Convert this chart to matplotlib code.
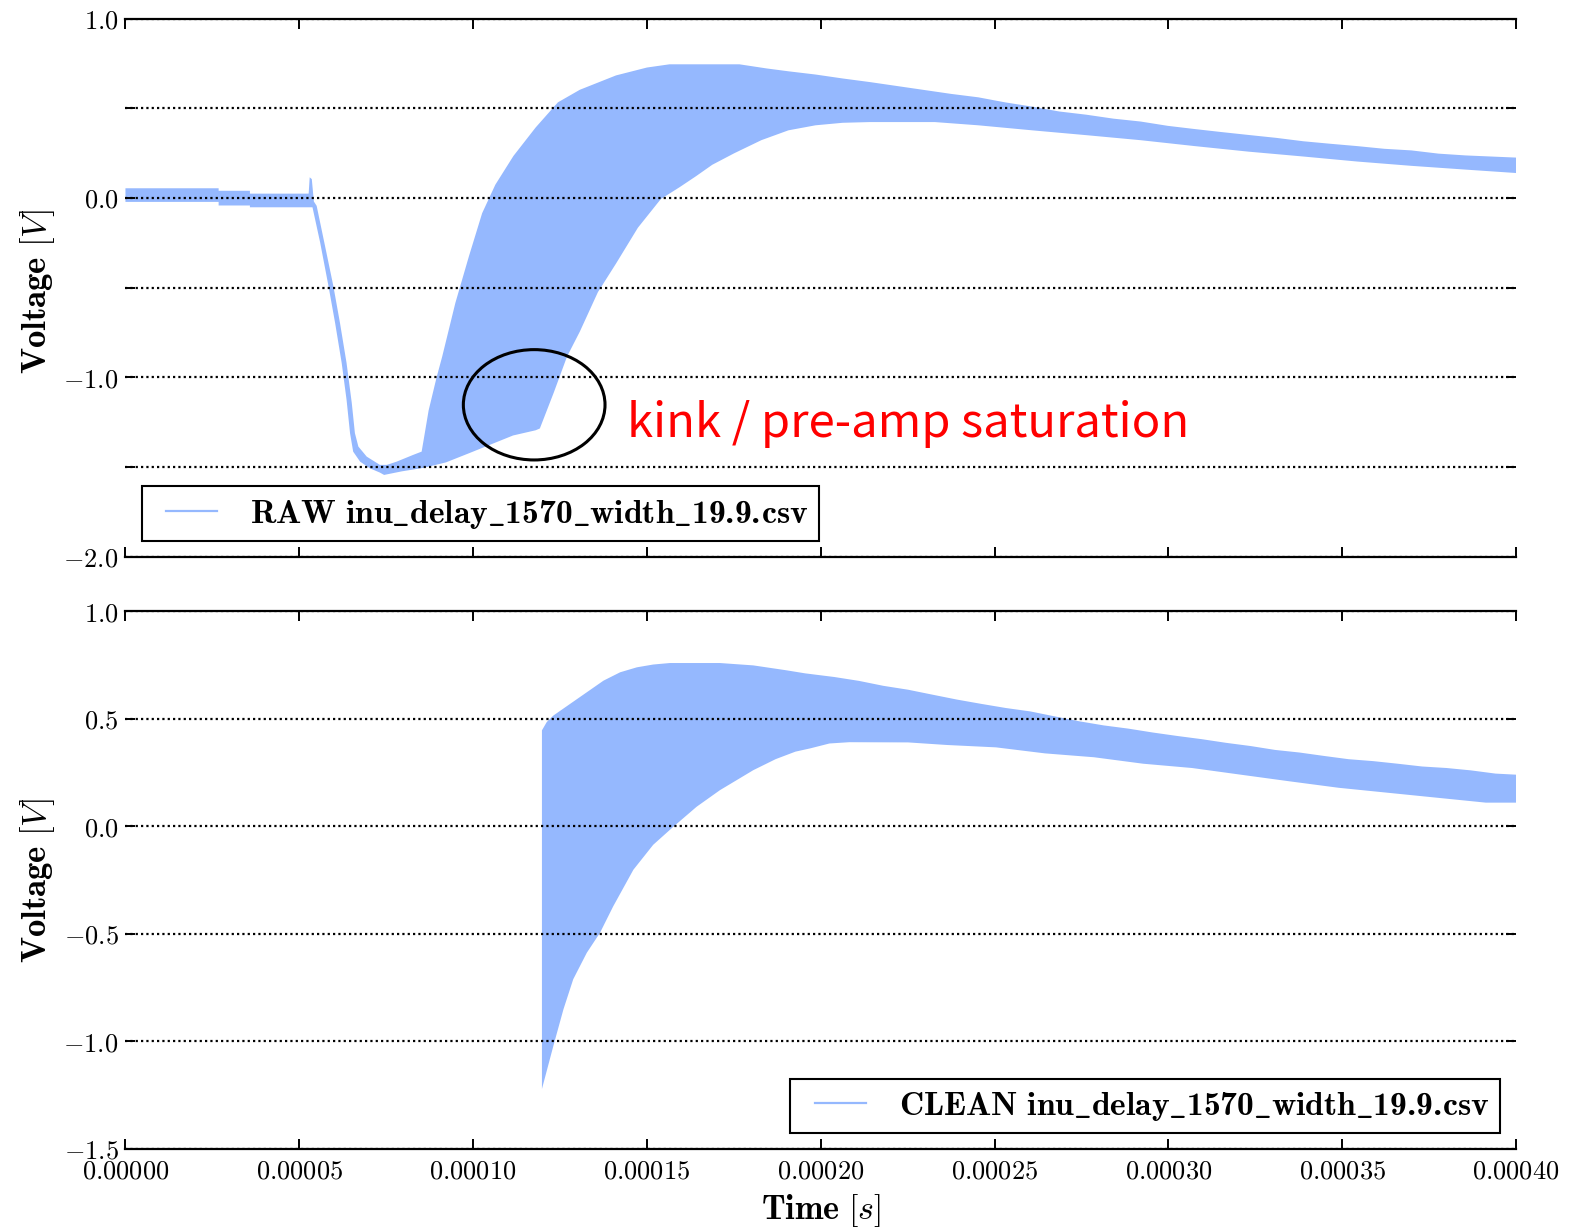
import numpy as np
import matplotlib
matplotlib.use("Agg")
import matplotlib.pyplot as plt
from matplotlib.lines import Line2D
from matplotlib.patches import Ellipse
from matplotlib.ticker import FuncFormatter
from matplotlib.font_manager import FontProperties
from matplotlib.legend_handler import HandlerLine2D

plt.rcParams['mathtext.fontset'] = 'cm'
plt.rcParams['mathtext.rm'] = 'cmr10'
plt.rcParams['mathtext.it'] = 'cmmi10'
plt.rcParams['mathtext.bf'] = 'cmb10'
plt.rcParams['mathtext.tt'] = 'cmtt10'
plt.rcParams['mathtext.fallback'] = 'cm'

# ---------------- data (time in units of 1e-5 s, voltage in V) ----------------
raw_upper_t = np.array([0.00, 2.68, 2.68, 3.58, 3.58, 5.27, 5.30, 5.36, 5.42, 5.50, 5.74, 5.98,
                        6.17, 6.36, 6.51, 6.60, 6.70, 6.94, 7.32, 7.52, 7.80, 8.28, 8.52, 8.62,
                        8.72, 8.95, 9.11, 9.49, 9.88, 10.26, 10.64, 11.16, 11.80, 12.44, 13.07,
                        14.11, 15.00, 15.65, 17.66, 18.44, 19.07, 19.85, 20.63, 21.41, 22.19,
                        22.97, 23.75, 24.53, 25.30, 26.08, 26.86, 27.64, 28.42, 29.20, 29.98,
                        30.76, 31.54, 32.31, 33.10, 33.88, 34.66, 35.43, 36.21, 36.99, 37.77,
                        38.55, 40.00]) * 1e-5
raw_upper_v = np.array([0.054, 0.054, 0.040, 0.040, 0.024, 0.024, 0.115, 0.105, -0.020, -0.044,
                        -0.267, -0.491, -0.696, -0.920, -1.143, -1.311, -1.386, -1.442, -1.488,
                        -1.488, -1.470, -1.432, -1.414, -1.300, -1.185, -1.000, -0.885, -0.585,
                        -0.325, -0.085, 0.074, 0.234, 0.393, 0.533, 0.603, 0.683, 0.727, 0.745,
                        0.745, 0.722, 0.706, 0.688, 0.666, 0.646, 0.624, 0.602, 0.580, 0.561,
                        0.533, 0.509, 0.482, 0.464, 0.442, 0.426, 0.402, 0.384, 0.367, 0.351,
                        0.335, 0.316, 0.302, 0.289, 0.274, 0.265, 0.247, 0.237, 0.225])

raw_lower_t = np.array([0.00, 2.68, 2.68, 3.58, 3.58, 5.38, 5.60, 5.84, 6.03, 6.22, 6.36, 6.46,
                        6.55, 6.75, 7.03, 7.32, 7.44, 7.95, 8.59, 9.22, 9.87, 10.51, 11.15,
                        11.80, 11.92, 12.32, 12.70, 13.07, 13.59, 14.11, 14.74, 15.40, 15.94,
                        16.41, 16.88, 17.51, 18.29, 19.07, 19.85, 20.63, 21.41, 23.28, 24.53,
                        26.08, 27.64, 29.20, 30.76, 32.31, 33.88, 35.43, 36.99, 38.55,
                        40.00]) * 1e-5
raw_lower_v = np.array([-0.022, -0.022, -0.042, -0.042, -0.052, -0.052, -0.248, -0.491, -0.696,
                        -0.920, -1.125, -1.311, -1.414, -1.470, -1.507, -1.531, -1.544, -1.524,
                        -1.504, -1.474, -1.424, -1.374, -1.324, -1.295, -1.285, -1.085, -0.885,
                        -0.745, -0.525, -0.366, -0.166, -0.006, 0.060, 0.121, 0.185, 0.249,
                        0.322, 0.377, 0.405, 0.419, 0.423, 0.423, 0.405, 0.377, 0.350, 0.322,
                        0.289, 0.258, 0.231, 0.203, 0.179, 0.158, 0.139])

clean_upper_t = np.array([11.98, 12.12, 12.31, 12.79, 13.27, 13.75, 14.23, 14.71, 15.18, 15.66,
                          17.10, 18.06, 19.02, 19.55, 20.39, 21.10, 21.80, 22.51, 23.21, 23.92,
                          24.62, 25.32, 26.03, 26.73, 27.44, 28.14, 28.85, 29.55, 30.25, 30.96,
                          31.66, 32.37, 33.07, 33.77, 34.48, 35.18, 35.89, 36.59, 37.30, 38.00,
                          38.70, 39.41, 40.00]) * 1e-5
clean_upper_v = np.array([0.446, 0.485, 0.515, 0.569, 0.623, 0.677, 0.716, 0.739, 0.752, 0.759,
                          0.759, 0.748, 0.725, 0.711, 0.694, 0.676, 0.653, 0.635, 0.612, 0.589,
                          0.569, 0.550, 0.534, 0.511, 0.488, 0.469, 0.454, 0.436, 0.420, 0.405,
                          0.388, 0.373, 0.355, 0.343, 0.327, 0.312, 0.303, 0.291, 0.278, 0.271,
                          0.260, 0.245, 0.240])

clean_lower_t = np.array([11.98, 12.31, 12.60, 12.88, 13.27, 13.65, 14.03, 14.61, 15.18, 15.76,
                          16.43, 17.10, 18.06, 18.70, 19.27, 19.69, 20.25, 20.82, 22.51, 23.63,
                          25.04, 26.45, 27.86, 29.27, 30.68, 32.08, 33.49, 34.90, 36.31, 37.72,
                          39.13, 40.00]) * 1e-5
clean_lower_v = np.array([-1.221, -1.020, -0.850, -0.711, -0.588, -0.495, -0.372, -0.202, -0.086,
                          -0.002, 0.091, 0.168, 0.261, 0.312, 0.347, 0.362, 0.385, 0.391, 0.390,
                          0.378, 0.367, 0.339, 0.321, 0.291, 0.271, 0.240, 0.209, 0.179, 0.156,
                          0.133, 0.110, 0.110])

US = r'\mathtt{\_}'
raw_label = r'$\mathbf{RAW\ inu' + US + 'delay' + US + '1570' + US + r'width' + US + r'19.9.\!csv}$'
clean_label = r'$\mathbf{CLEAN\ inu' + US + 'delay' + US + '1570' + US + r'width' + US + r'19.9.\!csv}$'
x_ticks = np.arange(0, 0.000401, 0.00005)
# ---------------------------------------------------------------------------

COLOR = '#95B8FE'
TICK_FS = 19
LABEL_FS = 25
LEG_FS = 24.2


class ShortLineHandler(HandlerLine2D):
    """Line handle that only occupies the right part of the handle box."""
    def create_artists(self, legend, orig_handle, xdescent, ydescent, width, height,
                       fontsize, trans):
        arts = super().create_artists(legend, orig_handle, xdescent, ydescent, width,
                                      height, fontsize, trans)
        for a in arts:
            xd = np.asarray(a.get_xdata(), dtype=float)
            if xd.size >= 2 and a.get_linestyle() not in ('None', ''):
                x0, x1 = xd.min(), xd.max()
                a.set_xdata(np.linspace(x0 + 0.22 * (x1 - x0), x1, xd.size))
        return arts


fig = plt.figure(figsize=(15.86, 12.29), dpi=100)
ax1 = fig.add_axes([0.0791, 0.5470, 0.8768, 0.4379])
ax2 = fig.add_axes([0.0791, 0.0651, 0.8768, 0.4376], sharex=ax1)


def style(ax, ylo, yhi):
    ax.set_xlim(0, 0.0004)
    ax.set_ylim(ylo, yhi)
    ax.spines['left'].set_visible(False)
    ax.spines['right'].set_visible(False)
    for s in ('top', 'bottom'):
        ax.spines[s].set_linewidth(1.6)
    ax.tick_params(which='both', direction='in', top=True, right=True, left=True, bottom=True,
                   length=7, width=1.4, labelsize=TICK_FS, pad=5)
    ax.tick_params(axis='x', pad=7)
    ax.set_xticks(x_ticks)
    ax.xaxis.set_major_formatter(FuncFormatter(lambda v, p: r'$%.5f$' % v))
    ax.yaxis.grid(True, linestyle=(0, (1.0, 1.4)), color='black', linewidth=1.6)


style(ax1, -2.0, 1.0)
style(ax2, -1.5, 1.0)

ax1.set_yticks(np.arange(-2.0, 1.01, 0.5))
ax1.yaxis.set_major_formatter(FuncFormatter(
    lambda v, p: (r'$%.1f$' % v) if abs(v - round(v)) < 1e-9 else ''))
ax2.set_yticks(np.arange(-1.5, 1.01, 0.5))
ax2.yaxis.set_major_formatter(FuncFormatter(lambda v, p: r'$%.1f$' % v))
ax1.tick_params(labelbottom=False)

ax1.fill(np.concatenate([raw_upper_t, raw_lower_t[::-1]]),
         np.concatenate([raw_upper_v, raw_lower_v[::-1]]),
         color=COLOR, linewidth=0)
ax2.fill(np.concatenate([clean_upper_t, clean_lower_t[::-1]]),
         np.concatenate([clean_upper_v, clean_lower_v[::-1]]),
         color=COLOR, linewidth=0)

leg_prop = FontProperties(size=LEG_FS, math_fontfamily='custom')
for ax, lab, loc in ((ax1, raw_label, 'lower left'), (ax2, clean_label, 'lower right')):
    h = Line2D([], [], color=COLOR, linewidth=1.6)
    leg = ax.legend([h], [lab], loc=loc, fancybox=False, framealpha=1, edgecolor='black',
                    prop=leg_prop, handlelength=1.95, handletextpad=0.98, borderpad=0.3,
                    borderaxespad=0.48, handler_map={Line2D: ShortLineHandler()})
    leg.get_frame().set_linewidth(1.5)

ax1.set_ylabel(r'$\mathbf{Voltage}\ [V]$', fontsize=LABEL_FS)
ax2.set_ylabel(r'$\mathbf{Voltage}\ [V]$', fontsize=LABEL_FS)
ax2.set_xlabel(r'$\mathbf{Time}\ [s]$', fontsize=24.5)
ax1.yaxis.set_label_coords(-0.0495, 0.494)
ax2.yaxis.set_label_coords(-0.0495, 0.50)
ax2.xaxis.set_label_coords(0.5, -0.080)

ax1.add_patch(Ellipse((1.1757e-4, -1.153), 4.075e-5, 0.615, fill=False,
                      edgecolor='black', linewidth=2.2, zorder=5))
ax1.text(1.442e-4, -1.332, 'kink / pre-amp saturation', color='red', fontsize=34,
         family=['Noto Sans CJK JP', 'DejaVu Sans'], ha='left', va='baseline')

fig.savefig('out.png', dpi=100)
